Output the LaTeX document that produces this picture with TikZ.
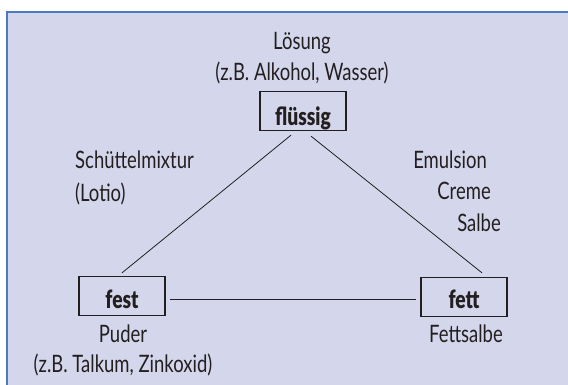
\documentclass[tikz,border=0pt]{standalone}
\usepackage{fontspec}
\setmainfont{Lato}[FakeStretch=0.77, BoldFont={* Black}]
\usetikzlibrary{calc}
\definecolor{bgfill}{HTML}{D4D7EB}
\definecolor{frameblue}{HTML}{4B7BBE}
\definecolor{ink}{HTML}{231F20}
\tikzset{
  lbl/.style={font=\fontsize{24}{27}\selectfont, text=ink, inner sep=0pt, anchor=base},
  statebox/.style={draw=ink, line width=1.3pt, minimum width=86pt, minimum height=39pt,
    inner sep=0pt},
  boxtext/.style={font=\fontsize{25}{28}\selectfont\bfseries, text=ink, inner sep=0pt, anchor=base},
  conn/.style={draw=ink, line width=0.8pt}
}
\begin{document}
\begin{tikzpicture}[x=1pt,y=-1pt]
\useasboundingbox (0,0) rectangle (568,385);
\fill[bgfill] (7,12) rectangle (568,385);
\draw[frameblue, line width=1.6pt] (7,385) -- (7,12) -- (568,12);

\node[statebox] (flu) at (303,111) {};
\node[statebox] (fest) at (122,296) {};
\node[statebox] (fett) at (464,297) {};
\node[boxtext] (flutext) at (303,126) {flüssig};
\node[boxtext] (festtext) at (122,308) {fest};
\node[boxtext] (fetttext) at (464,308) {fett};

\node[lbl] (loes) at (302,50) {Lösung};
\node[lbl] (alk) at (302,81) {(z.B. Alkohol, Wasser)};
\node[lbl, anchor=base west] (schue) at (75,169) {Schüttelmixtur};
\node[lbl, anchor=base west] (lotio) at (75,201) {(Lotio)};
\node[lbl, anchor=base east] (emul) at (487,168) {Emulsion};
\node[lbl, anchor=base east] (creme) at (491,200) {Creme};
\node[lbl, anchor=base east] (salbe) at (501,232) {Salbe};
\node[lbl] (puder) at (123,342) {Puder};
\node[lbl] (talk) at (123,372) {(z.B. Talkum, Zinkoxid)};
\node[lbl] (fsalbe) at (466,342) {Fettsalbe};

\draw[conn] ($(flu.south)+(-12,4)$) -- ($(fest.north)+(0,-3)$);
\draw[conn] ($(flu.south)+(8,5)$) -- ($(fett.north)+(18,-4)$);
\draw[conn] ($(fest.east)+(4,3)$) -- ($(fett.west)+(-4,2)$);
\end{tikzpicture}
\end{document}
